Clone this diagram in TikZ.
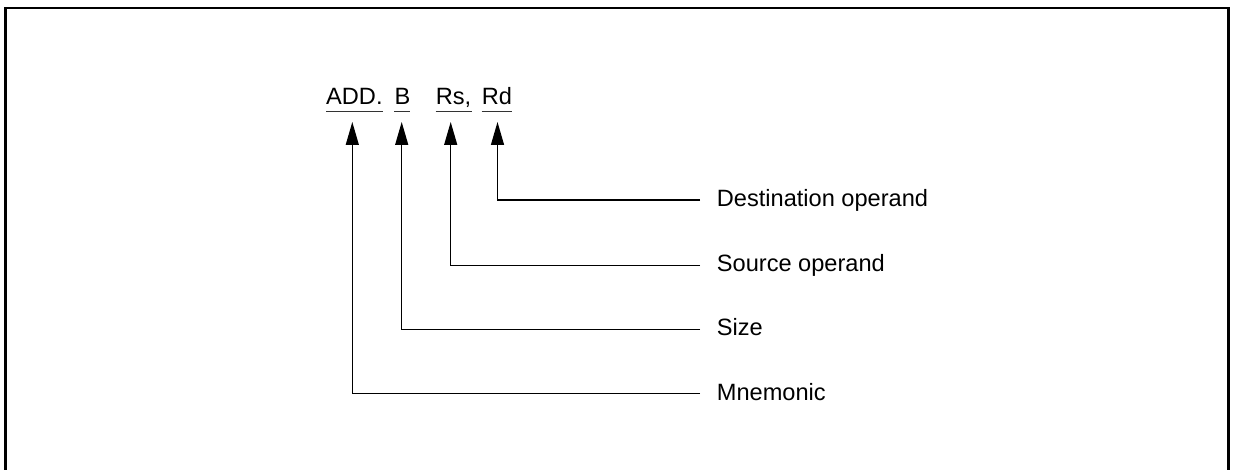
\documentclass[tikz,border=0pt]{standalone}
\usepackage{fontspec}
\setmainfont{Liberation Sans}
\usetikzlibrary{arrows.meta}
\begin{document}
\begin{tikzpicture}[x=1pt,y=-1pt,
  word/.style={inner sep=0pt,anchor=base west,font=\fontsize{23.6}{28}\selectfont},
  lab/.style={inner ysep=0pt,inner xsep=16.7pt,anchor=west,text height=17pt,text depth=3.6pt,font=\fontsize{23.6}{28}\selectfont},
  uline/.style={line width=1.6pt,draw=black!80},
  conn/.style={line width=1.3pt,-{Triangle[length=23pt,width=13pt]}},
  frame/.style={line width=2.6pt}]
\useasboundingbox (0,0) rectangle (1237,470);
\draw[frame] (5.5,475) -- (5.5,8) -- (1228.5,8) -- (1228.5,475);
% instruction words
\node[word] (add) at (326,105) {ADD.};
\node[word] (b) at (394.3,105) {B};
\node[word] (rs) at (435.7,105) {Rs,};
\node[word] (rd) at (481.7,105) {Rd};
\foreach \w in {add,b,rs,rd}
  \draw[uline] ([yshift=-6.7pt]\w.base west) -- ([yshift=-6.7pt]\w.base east);
% arrow tip coordinates
\coordinate (tadd) at (352.3,122);
\coordinate (tb) at (401.7,122);
\coordinate (trs) at (450.7,122);
\coordinate (trd) at (497.5,122);
% labels
\node[lab] (ldst) at (700,200) {Destination operand};
\node[lab] (lsrc) at (700,265.3) {Source operand};
\node[lab] (lsize) at (700,329.3) {Size};
\node[lab] (lmne) at (700,393.3) {Mnemonic};
\draw[conn] (ldst.west) -| (trd);
\draw[conn] (lsrc.west) -| (trs);
\draw[conn] (lsize.west) -| (tb);
\draw[conn] (lmne.west) -| (tadd);
\end{tikzpicture}
\end{document}
